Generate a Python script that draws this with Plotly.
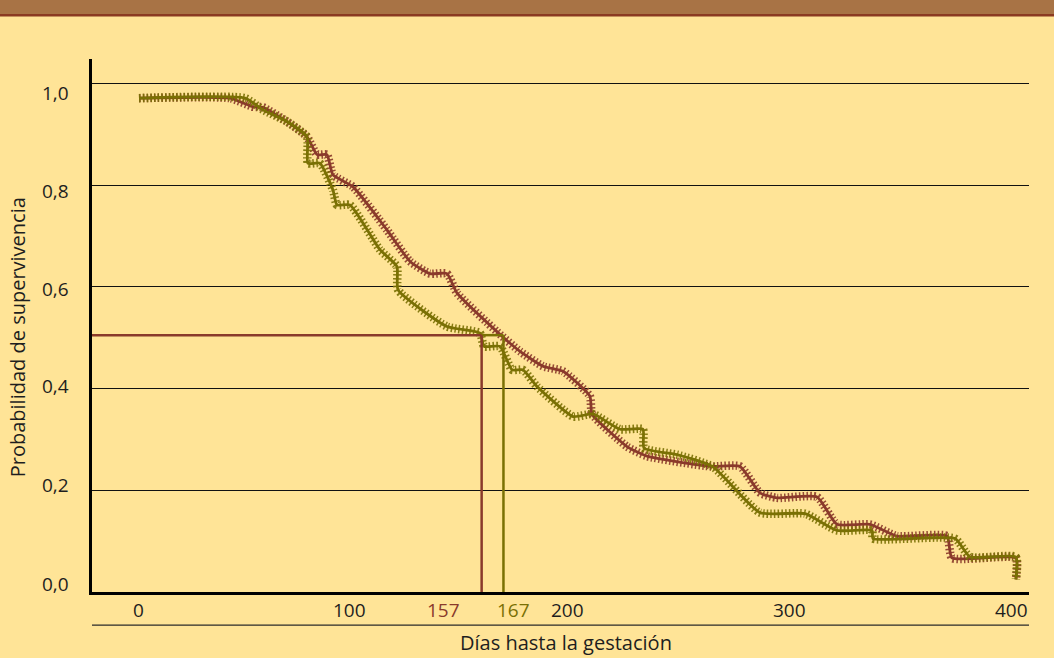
import plotly.graph_objects as go

# Kaplan-Meier style survival curves (days, survival probability)
dias_rojo = [0, 41.7, 52.2, 56.8, 67.8, 77.0, 81.6, 86.1, 88.9, 98.0, 113.6, 124.2,
             133.3, 141.1, 145.7, 164.0, 174.6, 185.1, 194.3, 206.6, 207.6, 223.6,
             232.8, 261.6, 275.4, 284.5, 292.3, 310.7, 319.8, 334.9, 347.3, 370.2,
             372.5, 401.8, 401.8]
prob_rojo = [0.971, 0.971, 0.954, 0.953, 0.925, 0.895, 0.860, 0.860, 0.820, 0.797,
             0.712, 0.650, 0.626, 0.626, 0.588, 0.512, 0.473, 0.444, 0.434, 0.385,
             0.350, 0.286, 0.267, 0.247, 0.247, 0.195, 0.185, 0.187, 0.133, 0.133,
             0.110, 0.110, 0.067, 0.067, 0.025]

dias_verde = [0, 48.6, 56.8, 67.8, 77.0, 77.4, 82.9, 88.9, 90.7, 96.7, 110.4, 118.2,
              118.7, 141.1, 156.2, 158.1, 165.4, 170.9, 175.9, 182.4, 198.9, 208.0,
              220.4, 230.9, 231.4, 246.5, 263.0, 284.5, 305.2, 319.8, 335.9, 336.3,
              373.9, 380.8, 401.8, 401.8]
prob_verde = [0.971, 0.971, 0.948, 0.925, 0.895, 0.843, 0.843, 0.790, 0.761, 0.761,
              0.673, 0.640, 0.594, 0.522, 0.509, 0.483, 0.483, 0.437, 0.437, 0.404,
              0.345, 0.350, 0.320, 0.320, 0.283, 0.270, 0.246, 0.156, 0.154, 0.121,
              0.121, 0.105, 0.105, 0.069, 0.069, 0.025]

# median survival markers
mediana_rojo = 157
mediana_verde = 167
nivel_mediana = 0.505

x_ticks = [0, 100, 200, 300, 400]
y_ticks = [0.0, 0.2, 0.4, 0.6, 0.8, 1.0]
y_ticktext = ["0,0", "0,2", "0,4", "0,6", "0,8", "1,0"]

# label nudges (px) so the tick labels sit as typeset
x_label_shift = [0, -8, -8, -4, 0]
y_label_shift = [8.5, 5.3, 2.3, -2.3, -6, -9.8]

ROJO = "#8a3a2b"
VERDE = "#7a7004"
FONDO = "#ffe497"
TEXTO = "#1e1e1e"
FUENTE = "Open Sans"

x_range = [-21.53, 407.8]
y_range = [0, 1.048]

fig = go.Figure()


def curva(x, y, color):
    # wide dashed stroke draws the perpendicular tick marks,
    # a thin solid stroke on top draws the curve itself
    fig.add_trace(go.Scatter(
        x=x, y=y, mode="lines",
        line=dict(color=color, width=8.5, dash="1.5px,2.2px", shape="spline", smoothing=0.5),
        opacity=0.9, hoverinfo="skip", showlegend=False))
    fig.add_trace(go.Scatter(
        x=x, y=y, mode="lines",
        line=dict(color=color, width=2.8, shape="spline", smoothing=0.5),
        hoverinfo="skip", showlegend=False))


curva(dias_rojo, prob_rojo, ROJO)
curva(dias_verde, prob_verde, VERDE)

shapes = [
    # header band
    dict(type="rect", xref="paper", yref="paper", x0=-0.2, x1=1.2, y0=1.0844, y1=1.2,
         fillcolor="#a87345", line_width=0, layer="below"),
    dict(type="rect", xref="paper", yref="paper", x0=-0.2, x1=1.2, y0=1.0797, y1=1.0844,
         fillcolor="#8b3a22", line_width=0, layer="below"),
    # rule under the x tick labels
    dict(type="line", xref="paper", yref="paper", x0=0, x1=1, y0=-0.0622, y1=-0.0622,
         line=dict(color="#2a2a2a", width=1.3)),
    # median guide lines
    dict(type="line", xref="x", yref="y", x0=x_range[0], x1=mediana_rojo,
         y0=nivel_mediana, y1=nivel_mediana, line=dict(color=ROJO, width=2.5)),
    dict(type="line", xref="x", yref="y", x0=mediana_rojo, x1=mediana_verde,
         y0=nivel_mediana, y1=nivel_mediana, line=dict(color=VERDE, width=2.5)),
    dict(type="line", xref="x", yref="y", x0=mediana_rojo, x1=mediana_rojo,
         y0=0, y1=nivel_mediana, line=dict(color=ROJO, width=2.5)),
    dict(type="line", xref="x", yref="y", x0=mediana_verde, x1=mediana_verde,
         y0=0, y1=nivel_mediana, line=dict(color=VERDE, width=2.5)),
]

tick_font = dict(family=FUENTE, size=19, color=TEXTO)
annotations = []
for v, s in zip(x_ticks, x_label_shift):
    annotations.append(dict(x=v, y=0, xref="x", yref="paper", text=str(v), showarrow=False,
                            xanchor="center", yanchor="middle", xshift=s, yshift=-18,
                            font=tick_font))
for v, t, s in zip(y_ticks, y_ticktext, y_label_shift):
    annotations.append(dict(x=0, y=v, xref="paper", yref="y", text=t, showarrow=False,
                            xanchor="right", yanchor="middle", xshift=-21, yshift=s,
                            font=tick_font))

annotations += [
    dict(x=mediana_rojo, y=0, xref="x", yref="y", text=str(mediana_rojo), showarrow=False,
         xanchor="center", yanchor="middle",
         xshift=-38, yshift=-18, font=dict(family=FUENTE, size=19, color=ROJO)),
    dict(x=mediana_verde, y=0, xref="x", yref="y", text=str(mediana_verde), showarrow=False,
         xanchor="center", yanchor="middle",
         xshift=10, yshift=-18, font=dict(family=FUENTE, size=19, color=VERDE)),
    dict(x=0.5055, y=-0.094, xref="paper", yref="paper", text="Días hasta la gestación",
         showarrow=False, yanchor="middle",
         font=dict(family=FUENTE, size=20, color=TEXTO)),
    dict(x=-0.0795, y=0.477, xref="paper", yref="paper", text="Probabilidad de supervivencia",
         showarrow=False, textangle=-90, xanchor="center", yanchor="middle",
         font=dict(family=FUENTE, size=20, color=TEXTO)),
]

fig.update_layout(
    width=1054, height=658,
    margin=dict(l=92, r=25, t=59, b=65.5),
    paper_bgcolor=FONDO, plot_bgcolor=FONDO,
    font=dict(family=FUENTE, color=TEXTO),
    shapes=shapes, annotations=annotations,
    hovermode=False,
    xaxis=dict(range=x_range, tickvals=x_ticks, showticklabels=False,
               showgrid=False, zeroline=False, showline=True, linecolor="#000",
               linewidth=2.6, ticks="", fixedrange=True),
    yaxis=dict(range=y_range, tickvals=y_ticks, showticklabels=False,
               showgrid=True, gridcolor="#111", gridwidth=1.2, zeroline=False,
               showline=True, linecolor="#000", linewidth=2.6, ticks="",
               fixedrange=True),
)

fig.write_html("out.html", config={"displayModeBar": False})
